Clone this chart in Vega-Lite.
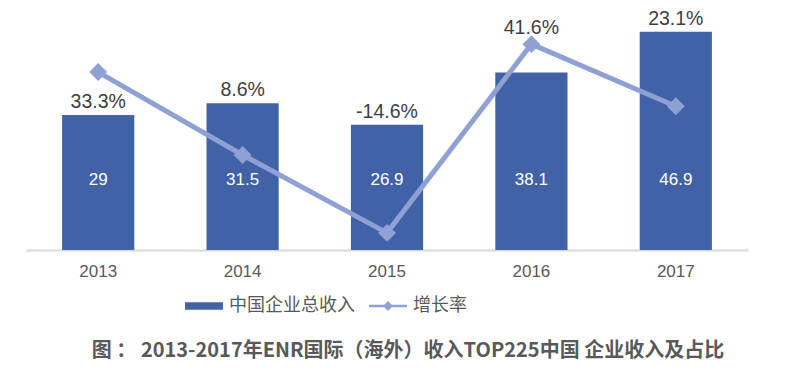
{
  "$schema": "https://vega.github.io/schema/vega-lite/v6.json",
  "width": 722,
  "height": 230,
  "autosize": {"type": "none"},
  "padding": {"left": 26, "top": 20, "right": 52, "bottom": 137},
  "background": "white",
  "config": {
    "view": {"stroke": null},
    "font": "Liberation Sans",
    "text": {"font": "Liberation Sans"}
  },
  "title": {
    "text": "图 ： 2013-2017年ENR国际（海外）收入TOP225中国 企业收入及占比",
    "orient": "bottom",
    "anchor": "middle",
    "offset": 26,
    "dx": 21,
    "font": "Noto Sans CJK SC",
    "fontWeight": "bold",
    "fontSize": 20,
    "color": "#595959"
  },
  "data": {
    "values": [
      {"year": "2013", "revenue": 29, "growth": 33.3, "label": "33.3%"},
      {"year": "2014", "revenue": 31.5, "growth": 8.6, "label": "8.6%"},
      {"year": "2015", "revenue": 26.9, "growth": -14.6, "label": "-14.6%"},
      {"year": "2016", "revenue": 38.1, "growth": 41.6, "label": "41.6%"},
      {"year": "2017", "revenue": 46.9, "growth": 23.1, "label": "23.1%"}
    ]
  },
  "encoding": {
    "x": {
      "field": "year",
      "type": "ordinal",
      "scale": {"paddingInner": 0.5, "paddingOuter": 0.25},
      "axis": {
        "title": null,
        "labelAngle": 0,
        "ticks": false,
        "domainColor": "#D9D9D9",
        "domainWidth": 2,
        "labelColor": "#595959",
        "labelFontSize": 17,
        "labelPadding": 13,
        "labelFont": "Liberation Sans"
      }
    }
  },
  "layer": [
    {
      "mark": {"type": "bar", "color": "#4262A8"},
      "encoding": {
        "y": {"field": "revenue", "type": "quantitative", "scale": {"domain": [0, 49.4], "nice": false}, "axis": null},
        "color": {
          "datum": "中国企业总收入",
          "type": "nominal",
          "scale": {"domain": ["中国企业总收入", "增长率"], "range": ["#4262A8", "#8FA0D4"]},
          "legend": {
            "title": null,
            "orient": "none",
            "legendX": 159,
            "legendY": 267,
            "direction": "horizontal",
            "labelFont": "Noto Sans CJK SC",
            "labelFontSize": 18,
            "labelColor": "#595959",
            "symbolSize": 1444,
            "columnPadding": 14,
            "labelOffset": 6,
            "symbolStrokeWidth": 0,
            "encode": {
              "symbols": {
                "update": {
                  "shape": {"signal": "datum.value === '增长率' ? 'M-1,-0.07H1V0.07H-1Z M0,-0.26L0.26,0L0,0.26L-0.26,0Z' : 'M-1,-0.2H1V0.2H-1Z'"},
                  "strokeWidth": {"value": 0}
                }
              }
            }
          }
        }
      }
    },
    {
      "mark": {"type": "text", "color": "white", "fontSize": 17, "baseline": "middle"},
      "encoding": {
        "y": {"datum": 15, "type": "quantitative", "scale": {"domain": [0, 49.4], "nice": false}, "axis": null},
        "text": {"field": "revenue", "type": "quantitative"}
      }
    },
    {
      "transform": [{"filter": "datum.year !== '2016'"}],
      "mark": {"type": "text", "color": "#404040", "fontSize": 19.5, "baseline": "middle", "dy": -13},
      "encoding": {
        "y": {"field": "revenue", "type": "quantitative", "scale": {"domain": [0, 49.4], "nice": false}, "axis": null},
        "text": {"field": "label"}
      }
    },
    {
      "mark": {"type": "line", "color": "#8FA0D4", "strokeWidth": 5, "point": {"shape": "diamond", "size": 320, "color": "#8FA0D4", "filled": true}},
      "encoding": {
        "y": {"field": "growth", "type": "quantitative", "scale": {"domain": [-19.7, 48.8], "nice": false, "zero": false}, "axis": null},
        "color": {"datum": "增长率", "type": "nominal"}
      }
    },
    {
      "transform": [{"filter": "datum.year === '2016'"}],
      "mark": {"type": "text", "color": "#404040", "fontSize": 19.5, "baseline": "middle", "dy": -16},
      "encoding": {
        "y": {"field": "growth", "type": "quantitative", "scale": {"domain": [-19.7, 48.8], "nice": false, "zero": false}, "axis": null},
        "text": {"field": "label"}
      }
    }
  ],
  "resolve": {"scale": {"y": "independent"}}
}
